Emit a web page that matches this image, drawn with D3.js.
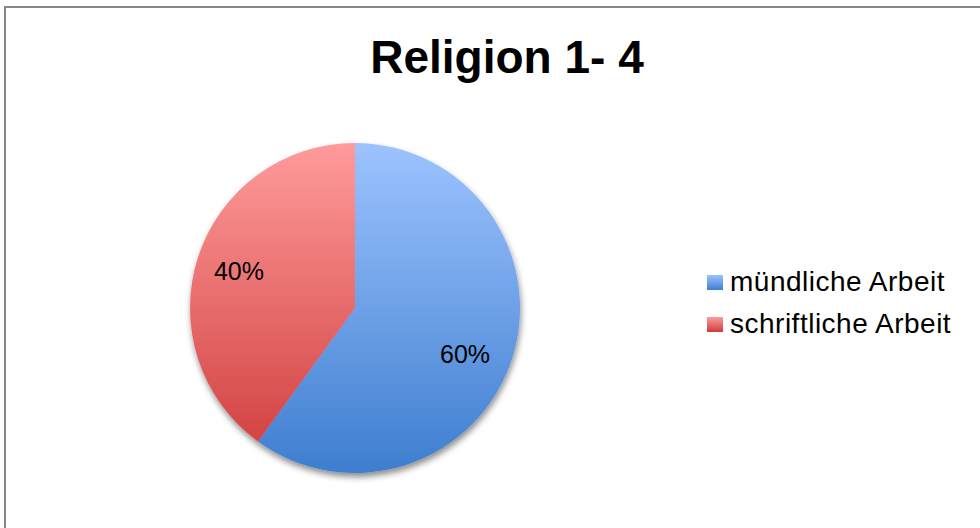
<!DOCTYPE html>
<meta charset="utf-8">
<style>
body { margin: 0; background: #fff; }
text { font-family: "Liberation Sans", Arial, Helvetica, sans-serif; fill: #000; }
.title { font-size: 46px; font-weight: bold; }
.label { font-size: 25px; }
.legend text { font-size: 28px; letter-spacing: 0.5px; }
</style>
<svg width="980" height="528"></svg>
<script src="https://cdn.jsdelivr.net/npm/d3@7"></script>
<script>

var categories = ["mündliche Arbeit", "schriftliche Arbeit"],
    values = [60, 40],
    topColors = ["#9dc3ff", "#ff9b9b"],
    bottomColors = ["#3e7ecf", "#cf3b3b"];

var svg = d3.select("svg"),
    cx = 355, cy = 308, r = 165;

svg.append("rect")
    .attr("x", 5).attr("y", 7)
    .attr("width", 1000).attr("height", 600)
    .attr("fill", "#fff")
    .attr("stroke", "#878787")
    .attr("stroke-width", 2);

svg.append("text")
    .attr("class", "title")
    .attr("x", 507).attr("y", 73)
    .attr("text-anchor", "middle")
    .text("Religion 1- 4");

var defs = svg.append("defs");

var shadow = defs.append("filter")
    .attr("id", "shadow")
    .attr("x", "-10%").attr("y", "-10%")
    .attr("width", "120%").attr("height", "125%");
shadow.append("feDropShadow")
    .attr("dx", 1).attr("dy", 4)
    .attr("stdDeviation", 3)
    .attr("flood-color", "#000")
    .attr("flood-opacity", 0.45);

categories.forEach(function(c, i) {
  // pie gradient, in the pie group's own coordinates
  var grad = defs.append("linearGradient")
      .attr("id", "grad" + i)
      .attr("gradientUnits", "userSpaceOnUse")
      .attr("x1", 0).attr("y1", -r)
      .attr("x2", 0).attr("y2", r);
  grad.append("stop").attr("offset", "0%").attr("stop-color", topColors[i]);
  grad.append("stop").attr("offset", "100%").attr("stop-color", bottomColors[i]);

  // legend swatch gradient
  var lg = defs.append("linearGradient")
      .attr("id", "lg" + i)
      .attr("x1", 0).attr("y1", 0).attr("x2", 0).attr("y2", 1);
  lg.append("stop").attr("offset", "0%").attr("stop-color", topColors[i]);
  lg.append("stop").attr("offset", "100%").attr("stop-color", bottomColors[i]);
});

var pie = d3.pie().sort(null)(values);

var arc = d3.arc().innerRadius(0).outerRadius(r),
    labelArc = d3.arc().innerRadius(122).outerRadius(122);

var g = svg.append("g").attr("transform", "translate(" + cx + "," + cy + ")");

g.append("g")
    .attr("filter", "url(#shadow)")
  .selectAll("path")
    .data(pie)
  .enter().append("path")
    .attr("d", arc)
    .attr("fill", function(d, i) { return "url(#grad" + i + ")"; });

g.selectAll(".label")
    .data(pie)
  .enter().append("text")
    .attr("class", "label")
    .attr("text-anchor", "middle")
    .attr("x", function(d) { return labelArc.centroid(d)[0] - (d.index === 0 ? 6 : 0); })
    .attr("y", function(d) { return labelArc.centroid(d)[1] + (d.index === 0 ? 17 : 10); })
    .text(function(d) { return Math.round(d.value / d3.sum(values) * 100) + "%"; });

var legend = svg.append("g")
    .attr("class", "legend")
    .attr("transform", "translate(707,275)");

var item = legend.selectAll("g")
    .data(categories)
  .enter().append("g")
    .attr("transform", function(d, i) { return "translate(0," + i * 42 + ")"; });

item.append("rect")
    .attr("width", 16).attr("height", 15)
    .attr("fill", function(d, i) { return "url(#lg" + i + ")"; });

item.append("text")
    .attr("x", 23).attr("y", 16)
    .text(function(d) { return d; });

</script>
